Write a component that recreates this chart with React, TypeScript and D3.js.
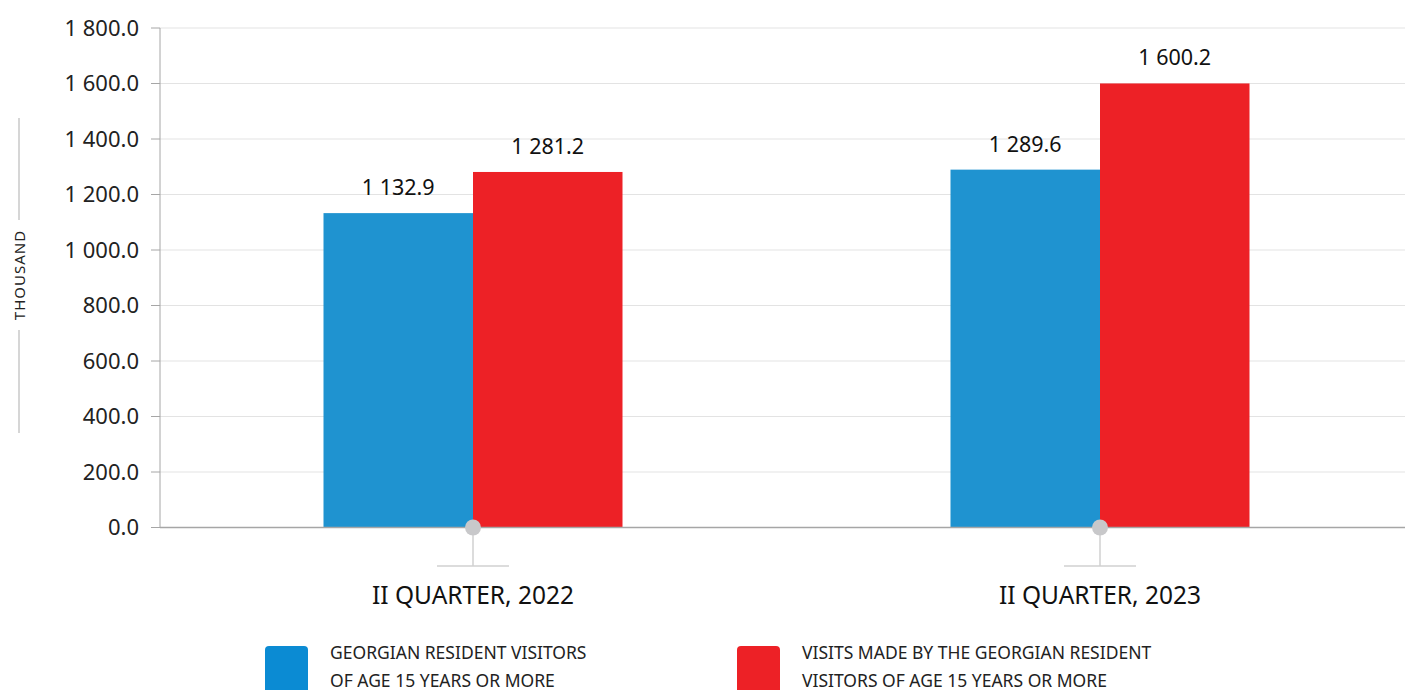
import React from "react";
import * as d3 from "d3";

const categories = ["II QUARTER, 2022", "II QUARTER, 2023"];
const seriesNames = [
  ["GEORGIAN RESIDENT VISITORS", "OF AGE 15 YEARS OR MORE"],
  ["VISITS MADE BY THE GEORGIAN RESIDENT", "VISITORS OF AGE 15 YEARS OR MORE"],
];
const visitors = [1132.9, 1289.6];
const visits = [1281.2, 1600.2];
const yTicks = [0, 200, 400, 600, 800, 1000, 1200, 1400, 1600, 1800];
const barColors = ["#1f93d0", "#ed2126"];
const legendColors = ["#0b8bd3", "#ed2126"];

const W = 1405, H = 690;
const FONT = "'Noto Sans', 'Open Sans', sans-serif";

const fmt = (v: number) => {
  const s = v.toFixed(1);
  const [i, d] = s.split(".");
  return i.replace(/\B(?=(\d{3})+(?!\d))/g, " ") + "." + d;
};

export default function App() {
  const x = d3.scaleBand<string>().domain(categories).range([159.5, 1413.5]);
  const y = d3.scaleLinear().domain([0, 1800]).range([527.5, 28]);
  const series = [visitors, visits];
  const barW = 149.5;

  return (
    <svg width={W} height={H} style={{ display: "block", position: "absolute", left: 0, top: 0 }} fontFamily={FONT}>
      <rect width={W} height={H} fill="#fff" />
      {yTicks.map((t) => (
        <g key={t}>
          {t > 0 && <line x1={160} x2={W} y1={y(t)} y2={y(t)} stroke="#e3e3e3" strokeWidth={1} />}
          <line x1={151} x2={160} y1={y(t)} y2={y(t)} stroke="#a6a6a6" strokeWidth={1} />
          <text x={139} y={y(t)} dy="0.35em" textAnchor="end" fontSize={22} fill="#222">
            {fmt(t)}
          </text>
        </g>
      ))}
      <line x1={160} x2={160} y1={y(1800)} y2={y(0)} stroke="#a6a6a6" strokeWidth={1} />
      {categories.map((c, ci) => {
        const cx = (x(c) as number) + x.bandwidth() / 2;
        return (
          <g key={c}>
            {series.map((s, si) => {
              const bx = si === 0 ? cx - barW : cx;
              return (
                <g key={si}>
                  <rect x={bx} y={y(s[ci])} width={barW} height={y(0) - y(s[ci])} fill={barColors[si]} />
                  <text x={bx + barW / 2} y={y(s[ci]) - 18} textAnchor="middle" fontSize={21.5} fill="#111">
                    {fmt(s[ci])}
                  </text>
                </g>
              );
            })}
          </g>
        );
      })}
      <line x1={160} x2={W} y1={y(0)} y2={y(0)} stroke="#a6a6a6" strokeWidth={1.5} />
      {categories.map((c) => {
        const cx = (x(c) as number) + x.bandwidth() / 2;
        return (
          <g key={c}>
            <line x1={cx} x2={cx} y1={y(0)} y2={566} stroke="#d0d0d0" strokeWidth={1.5} />
            <line x1={cx - 36} x2={cx + 36} y1={566} y2={566} stroke="#d0d0d0" strokeWidth={1.5} />
            <circle cx={cx} cy={y(0)} r={8} fill="#c8c8ca" />
            <text x={cx} y={604} textAnchor="middle" fontSize={24.5} fill="#111">
              {c}
            </text>
          </g>
        );
      })}
      <g transform="translate(25,275) rotate(-90)">
        <text textAnchor="middle" fontSize={15} fill="#222" letterSpacing={1}>
          THOUSAND
        </text>
      </g>
      <line x1={19} x2={19} y1={118} y2={220} stroke="#c8c8c8" strokeWidth={1.5} />
      <line x1={19} x2={19} y1={330} y2={433} stroke="#c8c8c8" strokeWidth={1.5} />
      {seriesNames.map((lines, i) => {
        const lx = i === 0 ? 265 : 737;
        return (
          <g key={i}>
            <rect x={lx} y={646} width={43} height={60} rx={4} fill={legendColors[i]} />
            {lines.map((ln, li) => (
              <text key={li} x={lx + 65} y={659 + li * 28} fontSize={17.5} fill="#222">
                {ln}
              </text>
            ))}
          </g>
        );
      })}
    </svg>
  );
}
